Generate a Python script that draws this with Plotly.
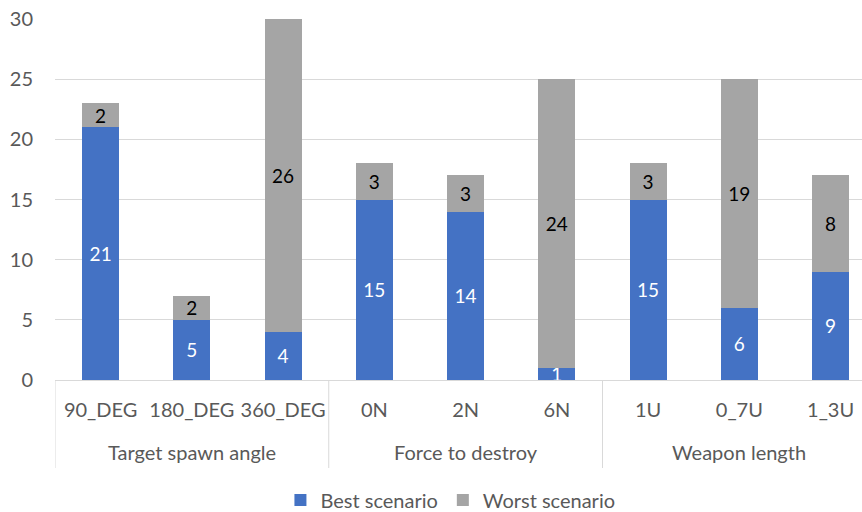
import plotly.graph_objects as go

groups = ["Target spawn angle", "Force to destroy", "Weapon length"]
group_sizes = [3, 3, 3]
categories = ["90_DEG", "180_DEG", "360_DEG", "0N", "2N", "6N", "1U", "0_7U", "1_3U"]
best = [21, 5, 4, 15, 14, 1, 15, 6, 9]
worst = [2, 2, 26, 3, 3, 24, 3, 19, 8]
y_ticks = [0, 5, 10, 15, 20, 25, 30]

FONT = "Lato, Open Sans, sans-serif"
xpos = list(range(len(categories)))

W, H = 862, 512
L, T = 55, 19
PLOT_H = 361
B = H - T - PLOT_H

fig = go.Figure()
fig.add_trace(go.Bar(
    x=xpos, y=best, name="Best scenario", marker=dict(color="#4472c4", line=dict(width=0)),
    text=best, textposition="inside", insidetextanchor="middle", textangle=0,
    constraintext="none", textfont=dict(color="white", size=19, family=FONT),
))
fig.add_trace(go.Bar(
    x=xpos, y=worst, name="Worst scenario", marker=dict(color="#a5a5a5", line=dict(width=0)),
    text=worst, textposition="inside", insidetextanchor="middle", textangle=0,
    constraintext="none", textfont=dict(color="black", size=19, family=FONT),
))

div_bottom = -88 / PLOT_H
start = 0
shapes = []
annotations = []
boundaries = [-0.5]
for g, n in zip(groups, group_sizes):
    center = start + (n - 1) / 2
    annotations.append(dict(
        x=center, y=-72 / PLOT_H, xref="x", yref="paper", text=g, showarrow=False,
        xanchor="center", yanchor="middle", font=dict(size=20, color="#595959", family=FONT),
    ))
    start += n
    boundaries.append(start - 0.5)
for b in boundaries:
    shapes.append(dict(type="line", xref="x", yref="paper", x0=b, x1=b, y0=0, y1=div_bottom,
                       line=dict(color="#d9d9d9", width=1)))

fig.update_layout(
    barmode="stack", bargap=0.595,
    width=W, height=H,
    margin=dict(l=L, r=0, t=T, b=B, autoexpand=False),
    paper_bgcolor="white", plot_bgcolor="white",
    font=dict(family=FONT, size=20, color="#595959"),
    uniformtext=dict(minsize=19, mode="show"),
    legend=dict(orientation="h", x=0.49, xanchor="center", y=-120 / PLOT_H, yanchor="middle",
                font=dict(size=20, color="#595959", family=FONT), traceorder="normal",
                itemwidth=30),
    showlegend=True,
    shapes=shapes,
    annotations=annotations,
)
fig.update_xaxes(
    range=[-0.5, 8.344], tickmode="array", tickvals=xpos, ticktext=categories,
    showline=True, linecolor="#d9d9d9", linewidth=1,
    ticks="", ticklabelstandoff=12, automargin=False,
    tickfont=dict(size=20, color="#595959", family=FONT),
    showgrid=False, zeroline=False,
)
fig.update_yaxes(
    range=[0, 30.0001], tickmode="array", tickvals=y_ticks, ticktext=[str(v) for v in y_ticks],
    showgrid=True, gridcolor="#d9d9d9", gridwidth=1,
    zeroline=False, showline=False, automargin=False,
    tickfont=dict(size=20, color="#595959", family=FONT),
    ticklabelstandoff=21, ticklabeloverflow="allow",
)

fig.write_html("out.html", config={"displayModeBar": False},
               post_script="document.body.style.margin='0';")
